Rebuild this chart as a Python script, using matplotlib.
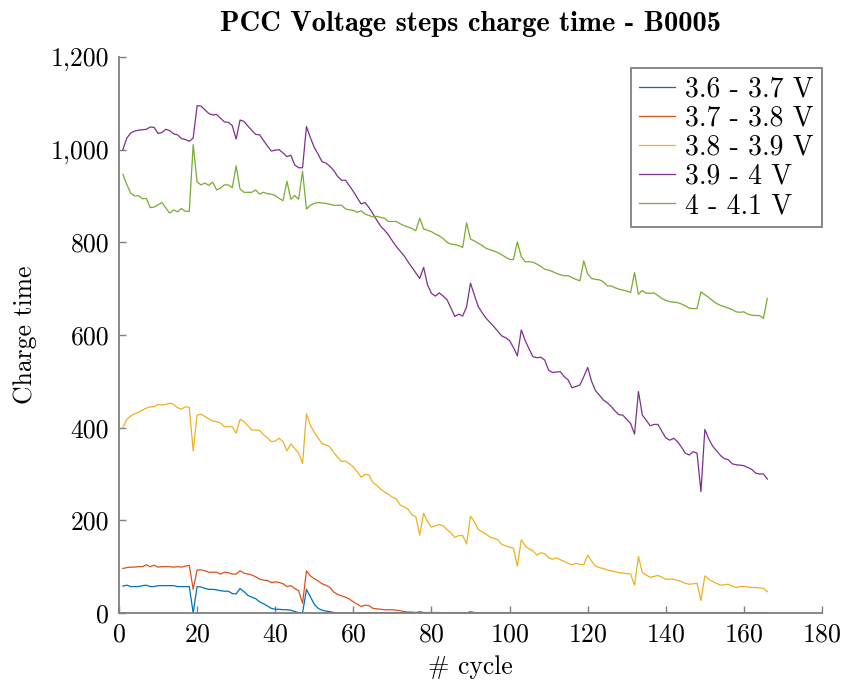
import matplotlib
matplotlib.use("Agg")
import matplotlib.pyplot as plt
from matplotlib.ticker import FuncFormatter, MultipleLocator

# ── Data ─────────────────────────────────────────────────────────────────────
cycles = list(range(1, 167))

step_36_37 = [
    58, 60, 57, 57, 57, 59, 60, 57, 57, 59, 59, 59, 59, 59, 57, 57, 57, 57, 0, 57,
    56, 53, 51, 51, 50, 48, 47, 47, 42, 41, 53, 46, 38, 34, 31, 24, 20, 15, 10, 8,
    8, 7, 7, 6, 3, 1, 0, 51, 35, 19, 10, 6, 4, 3, 1, 0, 0, 0, 0, 0,
    0, 0, 0, 0, 0, 0, 0, 0, 0, 0, 0, 0, 0, 0, 0, 0, 0, 0, 0, 0,
    0, 0, 0, 0, 0, 0, 0, 0, 0, 0, 0, 0, 0, 0, 0, 0, 0, 0, 0, 0,
    0, 0, 0, 0, 0, 0, 0, 0, 0, 0, 0, 0, 0, 0, 0, 0, 0, 0, 0, 0,
    0, 0, 0, 0, 0, 0, 0, 0, 0, 0, 0, 0, 0, 0, 0, 0, 0, 0, 0, 0,
    0, 0, 0, 0, 0, 0, 0, 0, 0, 0, 0, 0, 0, 0, 0, 0, 0, 0, 0, 0,
    0, 0, 0, 0, 0, 0,
]

step_37_38 = [
    96, 98, 99, 99, 100, 100, 104, 100, 103, 99, 100, 100, 100, 99, 100, 99, 101, 103, 51, 93,
    93, 91, 88, 88, 88, 84, 88, 87, 84, 84, 91, 86, 84, 82, 78, 73, 71, 70, 66, 67,
    66, 63, 57, 59, 53, 48, 21, 91, 80, 74, 69, 63, 60, 55, 45, 40, 37, 34, 30, 24,
    19, 14, 17, 16, 10, 9, 8, 7, 7, 7, 6, 5, 3, 2, 2, 1, 3, 1, 1, 1,
    1, 1, 0, 0, 0, 0, 0, 0, 0, 3, 1, 0, 0, 0, 0, 0, 0, 0, 0, 0,
    0, 0, 0, 0, 0, 0, 0, 0, 0, 0, 0, 0, 0, 0, 0, 0, 0, 0, 0, 0,
    0, 0, 0, 0, 0, 0, 0, 0, 0, 0, 0, 0, 0, 0, 0, 0, 0, 0, 0, 0,
    0, 0, 0, 0, 0, 0, 0, 0, 0, 0, 0, 0, 0, 0, 0, 0, 0, 0, 0, 0,
    0, 0, 0, 0, 0, 0,
]

step_38_39 = [
    400, 418, 425, 430, 433, 438, 442, 445, 445, 450, 449, 450, 453, 450, 443, 440, 445, 444, 350, 427,
    429, 424, 419, 414, 413, 410, 402, 402, 402, 388, 418, 413, 404, 395, 395, 394, 385, 378, 370, 371,
    377, 370, 350, 365, 355, 345, 323, 430, 405, 390, 378, 365, 363, 358, 346, 336, 327, 328, 322, 315,
    305, 293, 299, 298, 281, 276, 267, 261, 256, 250, 246, 233, 229, 224, 212, 208, 168, 215, 197, 185,
    188, 191, 188, 180, 173, 163, 167, 167, 149, 209, 197, 180, 175, 170, 164, 161, 158, 148, 145, 142,
    140, 101, 158, 145, 138, 134, 125, 130, 128, 119, 116, 119, 115, 111, 107, 104, 107, 105, 104, 125,
    112, 101, 98, 96, 93, 91, 89, 87, 86, 85, 84, 60, 122, 87, 82, 77, 79, 81, 77, 73,
    73, 73, 70, 68, 64, 62, 63, 64, 27, 80, 73, 68, 64, 60, 61, 62, 58, 55, 57, 57,
    56, 55, 55, 54, 53, 46,
]

step_39_40 = [
    1000, 1025, 1036, 1040, 1042, 1043, 1044, 1049, 1048, 1035, 1037, 1044, 1041, 1034, 1032, 1024, 1022, 1018, 1025, 1095,
    1094, 1086, 1078, 1075, 1076, 1068, 1060, 1059, 1052, 1023, 1064, 1061, 1051, 1042, 1033, 1032, 1020, 1008, 997, 999,
    1000, 993, 985, 988, 967, 961, 961, 1050, 1026, 1005, 990, 974, 971, 964, 955, 942, 934, 934, 922, 910,
    896, 883, 886, 875, 862, 848, 835, 826, 816, 803, 791, 781, 771, 758, 746, 734, 722, 746, 708, 690,
    684, 691, 684, 676, 658, 640, 645, 641, 661, 712, 686, 661, 648, 636, 627, 618, 608, 598, 594, 588,
    573, 555, 611, 588, 570, 553, 551, 552, 546, 524, 519, 520, 521, 510, 503, 486, 489, 492, 510, 530,
    500, 480, 470, 460, 454, 446, 436, 428, 427, 418, 409, 386, 478, 427, 416, 404, 407, 407, 392, 378,
    373, 377, 370, 358, 345, 341, 348, 345, 262, 396, 376, 360, 350, 340, 333, 331, 322, 320, 319, 318,
    314, 310, 302, 300, 300, 289,
]

step_40_41 = [
    947, 925, 906, 900, 901, 894, 895, 875, 876, 881, 886, 874, 863, 870, 866, 873, 867, 867, 1011, 930,
    924, 928, 923, 930, 913, 917, 924, 924, 918, 965, 915, 908, 908, 908, 913, 904, 908, 905, 904, 901,
    895, 890, 932, 893, 901, 893, 953, 872, 880, 884, 886, 885, 884, 882, 880, 880, 880, 872, 870, 869,
    865, 868, 861, 858, 855, 856, 854, 852, 845, 845, 845, 840, 836, 833, 830, 825, 852, 829, 826, 823,
    818, 814, 808, 800, 796, 795, 793, 789, 842, 807, 803, 798, 793, 787, 784, 781, 778, 773, 768, 763,
    763, 801, 769, 758, 758, 757, 753, 748, 742, 740, 737, 733, 730, 728, 728, 724, 720, 717, 760, 732,
    722, 720, 719, 715, 706, 706, 702, 699, 697, 695, 692, 735, 688, 696, 690, 690, 691, 685, 679, 675,
    672, 671, 670, 667, 663, 658, 657, 657, 693, 687, 681, 674, 668, 664, 661, 658, 655, 650, 649, 650,
    645, 643, 642, 642, 636, 679,
]

series = [step_36_37, step_37_38, step_38_39, step_39_40, step_40_41]
labels = ["3.6 - 3.7 V", "3.7 - 3.8 V", "3.8 - 3.9 V", "3.9 - 4 V", "4 - 4.1 V"]
colors = ["#0072BD", "#D95319", "#EDB120", "#7E2F8E", "#77AC30"]

# ── Style ────────────────────────────────────────────────────────────────────
AXIS = "#7f7f7f"
plt.rcParams["font.family"] = ["cmr10", "DejaVu Serif"]
plt.rcParams["axes.unicode_minus"] = False
plt.rcParams["axes.formatter.use_mathtext"] = True
FS = 18.5

fig = plt.figure(figsize=(8.45, 6.82), dpi=100, facecolor="white")
ax = fig.add_axes([0.1408, 0.1012, 0.8320, 0.8152])

for ys, lab, col in zip(series, labels, colors):
    ax.plot(cycles, ys, color=col, linewidth=0.9, label=lab)

ax.set_xlim(0, 180)
ax.set_ylim(0, 1200)
ax.xaxis.set_major_locator(MultipleLocator(20))
ax.yaxis.set_major_locator(MultipleLocator(200))
ax.yaxis.set_major_formatter(FuncFormatter(lambda v, _: f"{v:,.0f}"))

for side in ("top", "right"):
    ax.spines[side].set_visible(False)
for side in ("left", "bottom"):
    ax.spines[side].set_color(AXIS)
    ax.spines[side].set_linewidth(1.3)
ax.tick_params(direction="in", length=5, width=1.0, color=AXIS,
               labelsize=FS, labelcolor="black", pad=7)

ax.set_title("PCC Voltage steps charge time - B0005", fontsize=20.5,
             fontfamily=["cmb10", "DejaVu Serif"], pad=19)
ax.set_xlabel("# cycle", fontsize=FS, labelpad=6)
ax.set_ylabel("Charge time", fontsize=FS, labelpad=10)

leg = ax.legend(loc="upper right", bbox_to_anchor=(1.0, 1 - 11 / 556),
                borderaxespad=0, fancybox=False, framealpha=1,
                edgecolor=AXIS, fontsize=20, handlelength=1.3,
                handletextpad=0.35, labelspacing=0.1, borderpad=0.3)
leg.get_frame().set_linewidth(1.3)

fig.savefig("out.png", dpi=100, facecolor="white")
